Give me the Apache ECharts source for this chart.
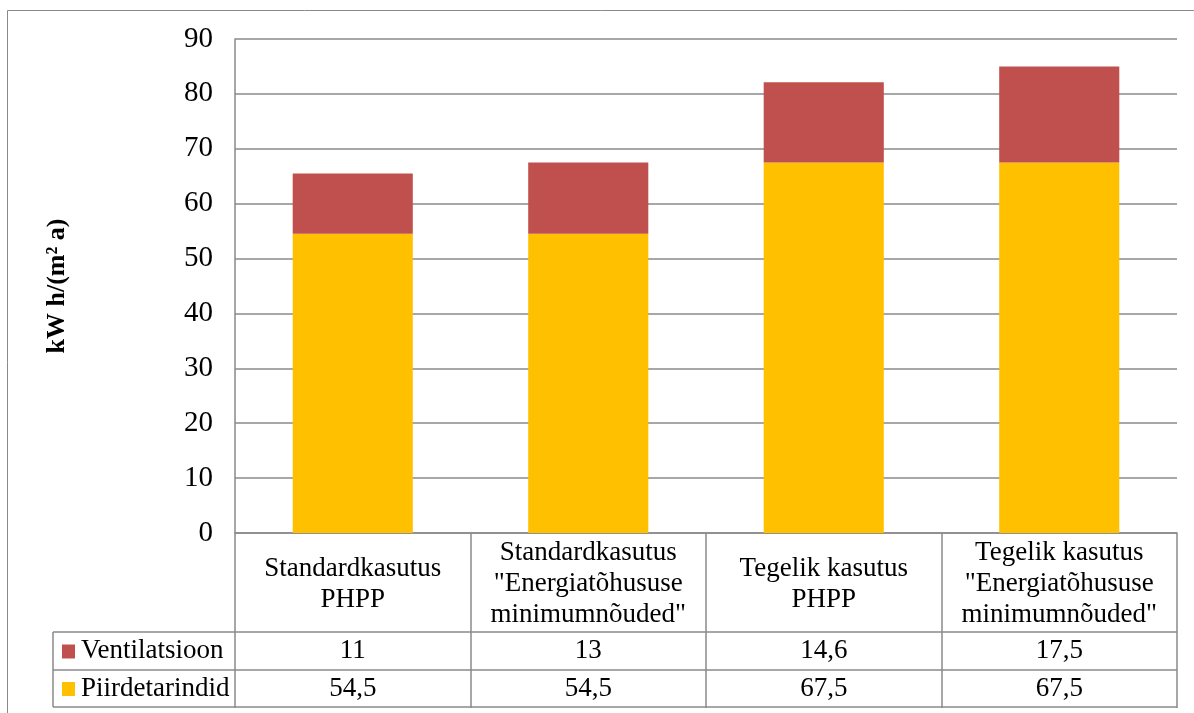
<!DOCTYPE html>
<html>
<head>
<meta charset="utf-8">
<script src="https://cdn.jsdelivr.net/npm/echarts@6/dist/echarts.min.js"></script>
<style>html,body{margin:0;padding:0;background:#fff;}#c{width:1194px;height:713px;}</style>
</head>
<body>
<div id="c"></div>
<script>
const categories = [
  'Standardkasutus\nPHPP',
  'Standardkasutus\n"Energiatõhususe\nminimumnõuded"',
  'Tegelik kasutus\nPHPP',
  'Tegelik kasutus\n"Energiatõhususe\nminimumnõuded"'
];
const seriesNames = ['Ventilatsioon', 'Piirdetarindid'];
const ventilatsioon = [11, 13, 14.6, 17.5];
const piirdetarindid = [54.5, 54.5, 67.5, 67.5];
const yAxisTitle = 'kW h/(m² a)';
const yMin = 0, yMax = 90, yStep = 10;

const FONT = '"Liberation Serif", "Times New Roman", serif';
const LINE = '#8a8a8a';
const RED = '#C0504D';
const YEL = '#FFC000';

const chart = echarts.init(document.getElementById('c'), null, {renderer: 'canvas'});
chart.setOption({
  animation: false,
  backgroundColor: '#fff',
  grid: {left: 235, right: 17, top: 39, bottom: 180, containLabel: false},
  xAxis: {
    type: 'category',
    data: categories,
    boundaryGap: true,
    axisLine: {show: true, lineStyle: {color: LINE, width: 1.5}},
    axisTick: {show: true, length: 175, alignWithLabel: false, lineStyle: {color: LINE, width: 1.5}},
    axisLabel: {
      show: true, interval: 0, margin: 51, verticalAlign: 'middle', align: 'center',
      fontFamily: FONT, fontSize: 27, lineHeight: 31, color: '#000'
    },
    splitLine: {show: false}
  },
  yAxis: {
    type: 'value', min: yMin, max: yMax, interval: yStep,
    name: yAxisTitle, nameLocation: 'middle', nameGap: 165, nameRotate: 90,
    nameTextStyle: {fontFamily: FONT, fontSize: 26, fontWeight: 'bold', color: '#000'},
    axisLine: {show: true, lineStyle: {color: LINE, width: 1.5}},
    axisTick: {show: false},
    axisLabel: {margin: 22, fontFamily: FONT, fontSize: 29, color: '#000'},
    splitLine: {show: true, lineStyle: {color: LINE, width: 1.5}}
  },
  series: [
    {name: seriesNames[1], type: 'bar', stack: 's', data: piirdetarindid, barWidth: '51%', itemStyle: {color: YEL}},
    {name: seriesNames[0], type: 'bar', stack: 's', data: ventilatsioon, barWidth: '51%', itemStyle: {color: RED}}
  ]
});

function fmt(v) { return String(v).replace('.', ','); }

const y0 = chart.convertToPixel({yAxisIndex: 0}, 0);
const colW = chart.convertToPixel({xAxisIndex: 0}, 1) - chart.convertToPixel({xAxisIndex: 0}, 0);
const xL = chart.convertToPixel({xAxisIndex: 0}, 0) - colW / 2;
const xR = xL + colW * categories.length;
const r1 = y0 + 99, r2 = r1 + 38, r3 = r2 + 37;
const xT = 53;
const TFONT = '27px ' + FONT;
const g = [];
g.push({type: 'rect', shape: {x: 7.5, y: 10.5, width: 1400, height: 900}, style: {fill: null, stroke: '#8a8a8a', lineWidth: 1}, z: 0, silent: true});
[r1, r2, r3].forEach(function (y) {
  g.push({type: 'line', shape: {x1: xT, y1: y, x2: xR, y2: y}, style: {stroke: LINE, lineWidth: 1.5}, z: 10});
});
g.push({type: 'line', shape: {x1: xT, y1: r1, x2: xT, y2: r3}, style: {stroke: LINE, lineWidth: 1.5}, z: 10});
const rows = [[seriesNames[0], ventilatsioon, RED, (r1 + r2) / 2], [seriesNames[1], piirdetarindid, YEL, (r2 + r3) / 2]];
rows.forEach(function (r) {
  g.push({type: 'rect', shape: {x: 62, y: r[3] - 6.5, width: 13, height: 14}, style: {fill: r[2]}, z: 10});
  g.push({type: 'text', x: 81, y: r[3], style: {text: r[0], font: TFONT, fill: '#000', verticalAlign: 'middle', align: 'left'}, z: 10});
  r[1].forEach(function (v, i) {
    const cx = chart.convertToPixel({xAxisIndex: 0}, i);
    g.push({type: 'text', x: cx, y: r[3], style: {text: fmt(v), font: TFONT, fill: '#000', verticalAlign: 'middle', align: 'center'}, z: 10});
  });
});
chart.setOption({graphic: g});
</script>
</body>
</html>
